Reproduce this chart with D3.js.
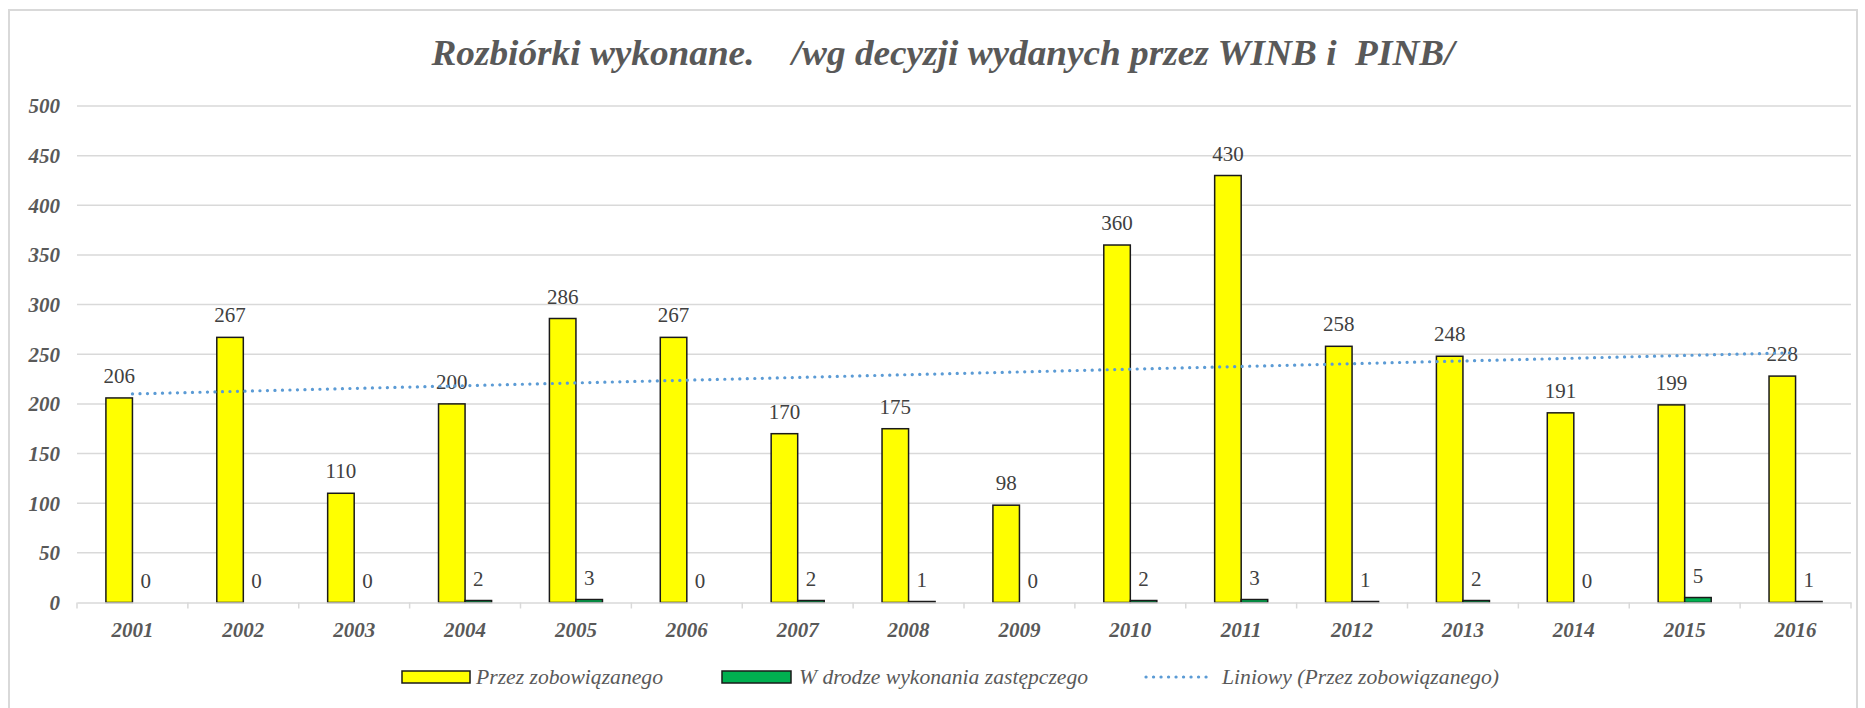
<!DOCTYPE html>
<html>
<head>
<meta charset="utf-8">
<script src="https://cdnjs.cloudflare.com/ajax/libs/d3/7.8.5/d3.min.js"></script>
<style>
  html, body { margin: 0; padding: 0; background: #fff; }
  svg text { white-space: pre; font-family: 'Liberation Serif', 'Times New Roman', 'DejaVu Serif', serif; }
</style>
</head>
<body>
<svg id="chart" width="1865" height="708"></svg>
<script>
const years = ['2001','2002','2003','2004','2005','2006','2007','2008','2009','2010','2011','2012','2013','2014','2015','2016'];
const przezZobowiazanego = [206,267,110,200,286,267,170,175,98,360,430,258,248,191,199,228];
const wDrodzeZastepczego = [0,0,0,2,3,0,2,1,0,2,3,1,2,0,5,1];
const yTickValues = [0,50,100,150,200,250,300,350,400,450,500];
const seriesNames = ['Przez zobowiązanego','W drodze wykonania zastępczego','Liniowy (Przez zobowiązanego)'];
const titleText = 'Rozbiórki wykonane.    /wg decyzji wydanych przez WINB i  PINB/';

const FONT = "'Liberation Serif', 'Times New Roman', 'DejaVu Serif', serif";
const svg = d3.select('#chart');
const m = {left: 77, right: 1851, top: 106, bottom: 602.5};

// frame
svg.append('rect').attr('x', 9).attr('y', 10).attr('width', 1848).attr('height', 710)
  .attr('fill', '#fff').attr('stroke', '#d9d9d9').attr('stroke-width', 2);

// title
svg.append('text').attr('x', 943).attr('y', 65).attr('text-anchor', 'middle')
  .style('font-family', FONT)
  .attr('font-style', 'italic').attr('font-weight', 'bold').attr('font-size', 36)
  .attr('fill', '#595959')
  .attr('textLength', 1023).attr('lengthAdjust', 'spacingAndGlyphs')
  .text(titleText);

const x = d3.scaleBand().domain(years).range([m.left, m.right]).paddingInner(0).paddingOuter(0);
const y = d3.scaleLinear().domain([0, 500]).range([m.bottom, m.top]);
const barW = x.bandwidth() / (2 + 2.18);
const x1 = d3.scaleBand().domain([0, 1]).range([0, 2 * barW]);
const groupOff = (x.bandwidth() - 2 * barW) / 2;

// gridlines
svg.append('g').selectAll('line').data(yTickValues.filter(d => d > 0)).join('line')
  .attr('x1', m.left).attr('x2', m.right)
  .attr('y1', d => y(d)).attr('y2', d => y(d))
  .attr('stroke', '#d9d9d9').attr('stroke-width', 1.5);

// y axis labels
const yAxis = d3.axisLeft(y).tickValues(yTickValues).tickSize(0).tickPadding(0);
const gy = svg.append('g').attr('transform', `translate(${m.left - 17},0)`).call(yAxis);
gy.select('.domain').remove();
gy.selectAll('text')
  .style('font-family', FONT)
  .attr('font-style', 'italic').attr('font-weight', 'bold').attr('font-size', 21)
  .attr('fill', '#595959').attr('dy', '0.33em');

// bars
const series = [przezZobowiazanego, wDrodzeZastepczego];
const colors = ['#ffff00', '#00b050'];
series.forEach((vals, si) => {
  svg.append('g').selectAll('rect').data(vals).join('rect')
    .attr('x', (d, i) => x(years[i]) + groupOff + x1(si))
    .attr('width', x1.bandwidth())
    .attr('y', d => y(d))
    .attr('height', d => y(0) - y(d))
    .attr('fill', colors[si])
    .attr('stroke', d => d > 0 ? '#1a1a1a' : 'none')
    .attr('stroke-width', 1.5);
});

// x axis line and ticks
const xAxis = d3.axisBottom(x).tickSize(0).tickPadding(0);
const gx = svg.append('g').attr('transform', `translate(0,${m.bottom})`).call(xAxis);
gx.select('.domain').attr('stroke', '#d9d9d9').attr('stroke-width', 1.5);
gx.selectAll('text')
  .style('font-family', FONT)
  .attr('font-style', 'italic').attr('font-weight', 'bold').attr('font-size', 21)
  .attr('fill', '#595959').attr('y', 34).attr('dy', 0);
svg.append('g').selectAll('line').data(years.concat(['end'])).join('line')
  .attr('x1', (d, i) => m.left + i * x.step()).attr('x2', (d, i) => m.left + i * x.step())
  .attr('y1', m.bottom).attr('y2', m.bottom + 6)
  .attr('stroke', '#d9d9d9').attr('stroke-width', 1.5);

// data labels
series.forEach((vals, si) => {
  svg.append('g').selectAll('text').data(vals).join('text')
    .attr('x', (d, i) => x(years[i]) + groupOff + x1(si) + x1.bandwidth() / 2)
    .attr('y', d => y(d) - 15)
    .attr('text-anchor', 'middle')
    .style('font-family', FONT)
    .attr('font-size', 21).attr('fill', '#404040')
    .text(d => d);
});

// linear trend (least squares of series 1)
const n = przezZobowiazanego.length;
const xs = d3.range(1, n + 1);
const mx = d3.mean(xs), my = d3.mean(przezZobowiazanego);
const slope = d3.sum(xs, (v, i) => (v - mx) * (przezZobowiazanego[i] - my)) / d3.sum(xs, v => (v - mx) ** 2);
const icpt = my - slope * mx;
const trendPts = [1, n].map(k => [x(years[k - 1]) + x.bandwidth() / 2, y(icpt + slope * k)]);
svg.append('path').attr('d', d3.line()(trendPts))
  .attr('fill', 'none').attr('stroke', '#5b9bd5').attr('stroke-width', 3.2)
  .attr('stroke-linecap', 'round').attr('stroke-dasharray', '0.1 7.4');

// legend
const lg = svg.append('g');
const ly = 677;
const legendItems = [
  {type: 'rect', color: colors[0], x0: 402, x1: 470, tx: 476, tl: 187},
  {type: 'rect', color: colors[1], x0: 722, x1: 791, tx: 799, tl: 289},
  {type: 'line', color: '#5b9bd5', x0: 1146, x1: 1212, tx: 1222, tl: 277}
];
legendItems.forEach((it, i) => {
  if (it.type === 'rect') {
    lg.append('rect').attr('x', it.x0).attr('y', ly - 6).attr('width', it.x1 - it.x0).attr('height', 12)
      .attr('fill', it.color).attr('stroke', '#1a1a1a').attr('stroke-width', 1.5);
  } else {
    lg.append('line').attr('x1', it.x0).attr('x2', it.x1).attr('y1', ly).attr('y2', ly)
      .attr('stroke', it.color).attr('stroke-width', 3.2).attr('stroke-linecap', 'round')
      .attr('stroke-dasharray', '0.1 7.4');
  }
  lg.append('text').attr('x', it.tx).attr('y', ly + 7)
    .style('font-family', FONT)
    .attr('font-style', 'italic').attr('font-size', 21).attr('fill', '#595959')
    .attr('textLength', it.tl).attr('lengthAdjust', 'spacingAndGlyphs')
    .text(seriesNames[i]);
});
</script>
</body>
</html>
